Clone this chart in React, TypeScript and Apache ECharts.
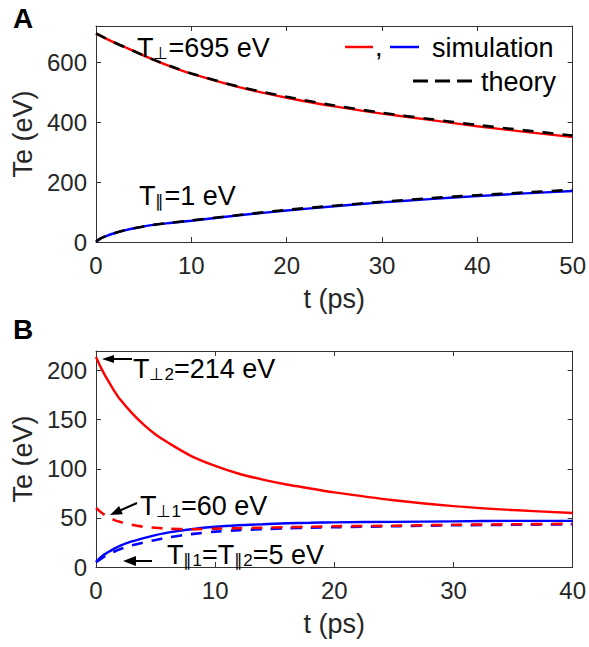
import React, { useEffect, useRef } from "react";
import * as echarts from "echarts";

// ---------- Data ----------
// Panel A
const tA = [0, 0.5, 1, 2, 3, 4, 6, 8, 10, 15, 20, 25, 30, 35, 40, 45, 50];
const simPerpA = [695, 687, 679, 664, 650, 636, 608, 583, 561, 516, 481, 452, 428, 407, 386, 367, 350];
const theoryPerpA = [695, 687, 679, 664, 650, 636, 608, 584, 562, 518, 484, 455, 431, 410, 390, 372, 355];
const simParA = [1, 12, 19, 30, 39, 46, 57, 64, 71, 89, 105, 119, 132, 143, 153, 162, 170];
const theoryParA = [1, 12, 19, 30, 39, 46, 57, 65, 72, 90, 107, 121, 134, 146, 156, 165, 174];

// Panel B
const tB = [0, 0.5, 1, 1.5, 2, 3, 4, 5, 6, 8, 10, 12, 14, 16, 18, 20, 25, 30, 35, 40];
const perp2Solid = [214, 201, 190, 180, 171, 157, 145, 135, 127, 113, 103, 95, 89, 84, 80, 76, 68, 62, 58, 55];
const perp1Dashed = [60, 55, 51, 48, 46, 43, 41, 40, 39, 38.5, 39, 39.5, 40, 40.5, 41, 41.5, 42, 43, 43.5, 44];
const parSolid = [5, 11, 15, 18.5, 21.5, 26, 29.5, 32.5, 35, 38.5, 41, 42.5, 43.5, 44.5, 45, 45.5, 46, 46.5, 47, 47];
const parDashed = [5, 9, 13, 15.5, 18, 22, 25, 27.5, 30, 33.5, 36, 37.5, 38.5, 39.5, 40, 40.5, 41.5, 42.5, 43, 43.5];

// Axis settings
const xMaxA = 50;
const yMaxA = 720;
const xMaxB = 40;
const yMaxB = 220;

const FONT = '"Liberation Sans", Arial, Helvetica, sans-serif';
const AXC = "#333333";
const TXC = "#262626";

function pairs(t: number[], v: number[]) {
  return t.map((x, i) => [x, v[i]]);
}

function xAx(grid: number, max: number, top: boolean) {
  return {
    type: "value",
    gridIndex: grid,
    min: 0,
    max,
    interval: 10,
    position: top ? "top" : "bottom",
    axisLine: { show: true, onZero: false, lineStyle: { color: AXC, width: 1 } },
    axisTick: { show: true, inside: true, length: 5, lineStyle: { color: AXC } },
    axisLabel: top
      ? { show: false }
      : { show: true, fontSize: 24, color: TXC, fontFamily: FONT, margin: 11 },
    splitLine: { show: false },
    name: top ? "" : "t (ps)",
    nameLocation: "middle",
    nameGap: 43,
    nameTextStyle: { fontSize: 27, color: TXC, fontFamily: FONT },
  };
}

function yAx(grid: number, max: number, interval: number, right: boolean) {
  return {
    type: "value",
    gridIndex: grid,
    min: 0,
    max,
    interval,
    position: right ? "right" : "left",
    axisLine: { show: true, onZero: false, lineStyle: { color: AXC, width: 1 } },
    axisTick: { show: true, inside: true, length: 5, lineStyle: { color: AXC } },
    axisLabel: right
      ? { show: false }
      : { show: true, fontSize: 24, color: TXC, fontFamily: FONT, margin: 9, showMaxLabel: false },
    splitLine: { show: false },
    name: right ? "" : "Te (eV)",
    nameLocation: "middle",
    nameGap: 54,
    nameTextStyle: { fontSize: 27, color: TXC, fontFamily: FONT },
  };
}

function line(xi: number, yi: number, data: number[][], color: string, dashed: boolean, z: number) {
  return {
    type: "line",
    xAxisIndex: xi,
    yAxisIndex: yi,
    data,
    showSymbol: false,
    symbol: "none",
    smooth: 0.3,
    z,
    lineStyle: { color, width: dashed ? 2.6 : 2.4, type: dashed ? [11, 9] : "solid" },
  };
}

const rich = {
  m: { fontSize: 27, fontFamily: FONT, color: "#000", lineHeight: 31, verticalAlign: "bottom" },
  s: { fontSize: 17, fontFamily: FONT, color: "#000", lineHeight: 22, verticalAlign: "bottom" },
};

function label(x: number, y: number, text: string) {
  return {
    type: "text",
    x,
    y,
    z: 100,
    style: { text, rich, fill: "#000", align: "left", verticalAlign: "middle" },
  };
}

function plainText(x: number, y: number, text: string, size: number, bold = false) {
  return {
    type: "text",
    x,
    y,
    z: 100,
    style: {
      text,
      fill: "#000",
      fontSize: size,
      fontFamily: FONT,
      fontWeight: bold ? "bold" : "normal",
      align: "left",
      verticalAlign: "middle",
    },
  };
}

function arrow(tail: number[], tip: number[], headLen: number, halfW: number) {
  const dx = tip[0] - tail[0];
  const dy = tip[1] - tail[1];
  const L = Math.sqrt(dx * dx + dy * dy);
  const ux = dx / L;
  const uy = dy / L;
  const bx = tip[0] - ux * headLen;
  const by = tip[1] - uy * headLen;
  const px = -uy * halfW;
  const py = ux * halfW;
  return [
    {
      type: "line",
      z: 100,
      shape: { x1: tail[0], y1: tail[1], x2: bx + ux, y2: by + uy },
      style: { stroke: "#000", lineWidth: 2 },
    },
    {
      type: "polygon",
      z: 100,
      shape: { points: [tip, [bx + px, by + py], [bx - px, by - py]] },
      style: { fill: "#000" },
    },
  ];
}

export default function App() {
  const ref = useRef<HTMLDivElement>(null);
  useEffect(() => {
    if (!ref.current) return;
    const chart = echarts.init(ref.current, null, { renderer: "svg" });
    const option = {
      animation: false,
      backgroundColor: "#ffffff",
      grid: [
        { left: 96, top: 26, width: 477, height: 216, containLabel: false },
        { left: 96, top: 351, width: 477, height: 216, containLabel: false },
      ],
      xAxis: [xAx(0, xMaxA, false), xAx(0, xMaxA, true), xAx(1, xMaxB, false), xAx(1, xMaxB, true)],
      yAxis: [yAx(0, yMaxA, 200, false), yAx(0, yMaxA, 200, true), yAx(1, yMaxB, 50, false), yAx(1, yMaxB, 50, true)],
      series: [
        line(0, 0, pairs(tA, simPerpA), "#ff0000", false, 2),
        line(0, 0, pairs(tA, simParA), "#0000ff", false, 2),
        line(0, 0, pairs(tA, theoryPerpA), "#000000", true, 3),
        line(0, 0, pairs(tA, theoryParA), "#000000", true, 3),
        line(2, 2, pairs(tB, parDashed), "#0000ff", true, 2),
        line(2, 2, pairs(tB, parSolid), "#0000ff", false, 2),
        line(2, 2, pairs(tB, perp2Solid), "#ff0000", false, 3),
        line(2, 2, pairs(tB, perp1Dashed), "#ff0000", true, 3),
      ],
      graphic: [
        plainText(13, 18, "A", 28, true),
        plainText(13, 329, "B", 28, true),
        // legend
        { type: "line", z: 100, shape: { x1: 345, y1: 47, x2: 373, y2: 47 }, style: { stroke: "#ff0000", lineWidth: 2.5 } },
        plainText(375, 47, ",", 27),
        { type: "line", z: 100, shape: { x1: 390, y1: 47, x2: 419, y2: 47 }, style: { stroke: "#0000ff", lineWidth: 2.5 } },
        plainText(432, 48, "simulation", 27),
        {
          type: "line",
          z: 100,
          shape: { x1: 413, y1: 81, x2: 472, y2: 81 },
          style: { stroke: "#000", lineWidth: 3, lineDash: [15, 7] },
        },
        plainText(481, 82, "theory", 27),
        // annotations A
        label(137, 46, "{m|T}{s|⊥}{m|=695 eV}"),
        label(139, 194, "{m|T}{s|∥}{m|=1 eV}"),
        // annotations B
        label(133, 367, "{m|T}{s|⊥2}{m|=214 eV}"),
        label(140, 504, "{m|T}{s|⊥1}{m|=60 eV}"),
        label(167, 553, "{m|T}{s|∥1}{m|=T}{s|∥2}{m|=5 eV}"),
        ...arrow([132, 359], [102, 359], 12, 4),
        ...arrow([137, 503], [110, 515], 12, 4.5),
        ...arrow([152, 561], [123, 561], 13, 5),
      ],
    };
    chart.setOption(option as any);
    return () => chart.dispose();
  }, []);
  return (
    <div
      ref={ref}
      style={{ position: "fixed", left: 0, top: 0, width: 589, height: 647, background: "#fff" }}
    />
  );
}
